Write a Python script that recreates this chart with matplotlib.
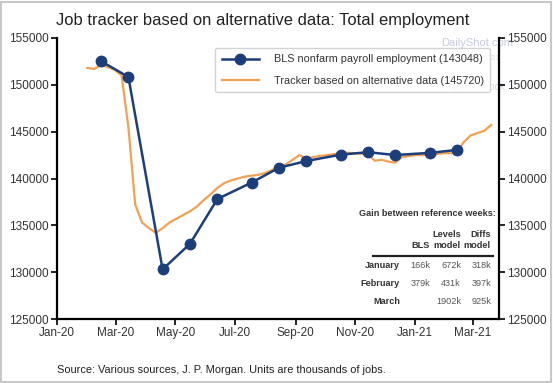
import matplotlib
matplotlib.use("Agg")
import matplotlib.pyplot as plt
import matplotlib.dates as mdates
import numpy as np
import pandas as pd
from matplotlib.patches import Rectangle

plt.rcParams['font.family'] = ['Liberation Sans', 'DejaVu Sans']

# ---- data ----
bls_dates = ["2020-02-15", "2020-03-14", "2020-04-18", "2020-05-16", "2020-06-13",
             "2020-07-18", "2020-08-15", "2020-09-12", "2020-10-17", "2020-11-14",
             "2020-12-12", "2021-01-16", "2021-02-13"]
bls_values = [152523, 150840, 130303, 133028, 137809, 139566, 141149, 141865,
              142545, 142809, 142503, 142736, 143048]

tracker_start = "2020-02-01"
tracker_values = [151800, 151700, 152100, 151900, 151600, 151000, 145500, 137200,
                  135300, 134700, 134200, 134700, 135300, 135700, 136100, 136500,
                  137000, 137700, 138300, 139000, 139500, 139800, 140000, 140200,
                  140300, 140400, 140600, 140900, 141250, 141500, 142000, 142500,
                  142100, 142300, 142400, 142500, 142600, 142700, 142750, 142700,
                  142650, 142600, 141900, 142000, 141800, 141700, 142300, 142400,
                  142500, 142500, 142550, 142600, 142700, 142700, 142800, 143900,
                  144600, 144850, 145100, 145720]

xtick_labels = ["Jan-20", "Mar-20", "May-20", "Jul-20", "Sep-20", "Nov-20", "Jan-21", "Mar-21"]
yticks = [125000, 130000, 135000, 140000, 145000, 150000, 155000]

table_cols = ["BLS", "Levels\nmodel", "Diffs\nmodel"]
table_rows = ["January", "February", "March"]
table_cells = [["166k", "672k", "318k"],
               ["379k", "431k", "397k"],
               ["", "1902k", "925k"]]

navy = "#1c3f7c"
orange = "#f2a154"

W, H = 553, 383
fig = plt.figure(figsize=(W / 100, H / 100), dpi=100)
fig.patch.set_facecolor("white")
fig.add_artist(Rectangle((0.002, 0.003), 0.995, 0.993, transform=fig.transFigure,
                         fill=False, edgecolor="#c8c8c8", linewidth=1.5))

AX_L, AX_R, AX_T, AX_B = 57, 499, 38, 319
ax = fig.add_axes([AX_L / W, 1 - AX_B / H, (AX_R - AX_L) / W, (AX_B - AX_T) / H])

bd = pd.to_datetime(bls_dates)
td = pd.date_range(tracker_start, periods=len(tracker_values), freq="7D")

ax.plot(td, tracker_values, color=orange, lw=1.6, zorder=2,
        label="Tracker based on alternative data (145720)")
ax.plot(bd, bls_values, color=navy, lw=1.8, marker="o", markersize=7.5, zorder=3,
        label="BLS nonfarm payroll employment (143048)")

ax.set_xlim(pd.Timestamp("2020-01-01"), pd.Timestamp("2021-03-28"))
ax.set_ylim(125000, 155000)
ticks = pd.date_range("2020-01-01", "2021-03-01", freq="2MS")
ax.set_xticks(ticks)
ax.set_xticklabels(xtick_labels)
ax.set_yticks(yticks)
ax.set_yticklabels([str(v) for v in yticks])

ax.spines["top"].set_visible(False)
for s in ["left", "bottom", "right"]:
    ax.spines[s].set_linewidth(1.6)
    ax.spines[s].set_color("black")
ax.tick_params(axis="both", labelsize=8.5, colors="black", labelcolor="#333333",
               length=4, width=1.2, direction="out", pad=2)
ax.tick_params(axis="y", right=True, labelright=True)

# watermark (behind legend)
wm = dict(transform=fig.transFigure, ha="center", va="center", zorder=1)
ax.text(477 / W, 1 - 43 / H, "DailyShot.com", color="#c6cbe0", fontsize=8, **wm)
ax.text(477 / W, 1 - 58 / H, "24-Mar-2021", color="#d6daea", fontsize=6, **wm)
ax.text(477 / W, 1 - 86 / H, "@SoberLook", color="#d6daea", fontsize=7, **wm)

handles, labels = ax.get_legend_handles_labels()
leg = ax.legend(handles[::-1], labels[::-1], loc="upper left",
                bbox_to_anchor=((215 - AX_L) / (AX_R - AX_L), 1 - (48 - AX_T) / (AX_B - AX_T)),
                borderaxespad=0, fontsize=7.8, frameon=True, fancybox=True,
                edgecolor="#cccccc", framealpha=0.85,
                handlelength=3.5, borderpad=0.6, labelspacing=1.05, handletextpad=1.3)
leg.set_zorder(5)
leg.get_frame().set_linewidth(1.0)
for t in leg.get_texts():
    t.set_color("#333333")

# title
fig.text(56 / W, 1 - 20 / H, "Job tracker based on alternative data: Total employment",
         fontsize=11.9, color="#222222", ha="left", va="center")

# source
fig.text(57 / W, 1 - 370 / H, "Source: Various sources, J. P. Morgan. Units are thousands of jobs.",
         fontsize=7.9, color="#222222", ha="left", va="center")

# table inset
def fx(x):
    return x / W
def fy(y):
    return 1 - y / H

fig.text(fx(496), fy(214), "Gain between reference weeks:", fontsize=6.6, fontweight="bold",
         color="#333333", ha="right", va="center")
col_x = [430, 461, 491]
for cx, c in zip(col_x, table_cols):
    fig.text(fx(cx), fy(250), c, fontsize=6.6, fontweight="bold", color="#333333",
             ha="right", va="bottom", linespacing=1.3, multialignment="right")
fig.add_artist(plt.Line2D([fx(373), fx(493)], [fy(256), fy(256)], transform=fig.transFigure,
                          color="#222222", lw=1.6))
row_y = [265, 283, 302]
for ry, rl, vals in zip(row_y, table_rows, table_cells):
    fig.text(fx(400), fy(ry), rl, fontsize=6.6, fontweight="bold", color="#333333",
             ha="right", va="center")
    for cx, v in zip(col_x, vals):
        fig.text(fx(cx), fy(ry), v, fontsize=6.6, color="#555555", ha="right", va="center")

fig.savefig("out.png", dpi=100)
